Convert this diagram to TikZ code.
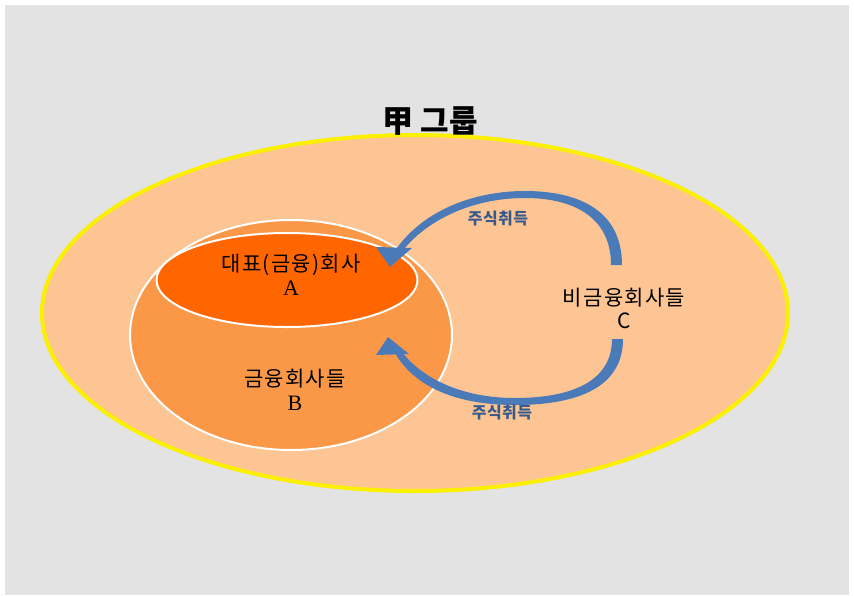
\documentclass[tikz,border=0pt]{standalone}
\usepackage{fontspec}
\setmainfont{Liberation Serif}
\newfontfamily\kr{Noto Sans CJK KR}
\newfontfamily\krs{Noto Sans CJK KR}[LetterSpace=6]
\newfontfamily\kra{Noto Sans CJK KR}[LetterSpace=3]
\usetikzlibrary{shapes.geometric}
\definecolor{bg}{RGB}{227,227,227}
\definecolor{peach}{RGB}{253,197,147}
\definecolor{midor}{RGB}{250,152,72}
\definecolor{deepor}{RGB}{255,102,0}
\definecolor{ring}{RGB}{250,240,0}
\definecolor{arrowblue}{RGB}{74,122,184}
\definecolor{labelblue}{RGB}{55,90,140}
\tikzset{
  oval/.style={ellipse, inner sep=0pt, outer sep=0pt},
  lbl/.style={align=center, font=\krs\fontsize{21}{30}\selectfont, text=black},
  acq/.style={font=\kra\bfseries\fontsize{16}{18}\selectfont, text=labelblue},
  arrowbody/.style={fill=arrowblue, draw=none}
}
\begin{document}
\begin{tikzpicture}[x=1pt,y=-1pt]
\useasboundingbox (0,0) rectangle (854,595);
\fill[white] (0,0) rectangle (854,595);
\fill[bg] (5,5) rectangle (849,595);

% outer group ellipse
\node[oval, draw=ring, line width=4pt, fill=peach,
      minimum width=746pt, minimum height=356pt] (G) at (415,313) {};
% financial companies B
\node[oval, draw=white, line width=2pt, fill=midor,
      minimum width=322pt, minimum height=230pt] (Bc) at (291,335) {};
% representative company A
\node[oval, draw=white, line width=2pt, fill=deepor,
      minimum width=261pt, minimum height=94pt] (Ac) at (287,280) {};

% title
\node[font=\kr\bfseries\fontsize{31}{33}\selectfont] (T) at (430,121) {甲 그룹};

% labels
\node[lbl] (A) at (291,275) {대표(금융)회사\\[-6pt]{\rmfamily\fontsize{22}{22}\selectfont A}};
\node[lbl] (B) at (295,390) {금융회사들\\[-6pt]{\rmfamily\fontsize{22}{22}\selectfont B}};
\node[lbl] (C) at (624,308) {비금융회사들\\[-7pt]C};

% upper arrow (C -> A)
\fill[arrowbody] (622,265) .. controls (622,210) and (578,191) .. (525,191)
   .. controls (470,191) and (422,213) .. (397,248)
   -- (404,249) .. controls (428,220) and (472,198) .. (525,198)
   .. controls (572,198) and (611,216) .. (611,265) -- cycle;
\fill[arrowbody] (376,247) -- (412,248) -- (390,267) -- cycle;
\node[acq] (U) at (498,219) {주식취득};

% lower arrow (C -> B)
\fill[arrowbody] (623,339) .. controls (623,386) and (580,405) .. (515,405)
   .. controls (455,405) and (414,386) .. (395,353)
   -- (402,352) .. controls (421,377) and (460,398) .. (515,398)
   .. controls (574,398) and (612,380) .. (612,339) -- cycle;
\fill[arrowbody] (376,355) -- (409,354) -- (388,337) -- cycle;
\node[acq] (L) at (502,413) {주식취득};
\end{tikzpicture}
\end{document}
